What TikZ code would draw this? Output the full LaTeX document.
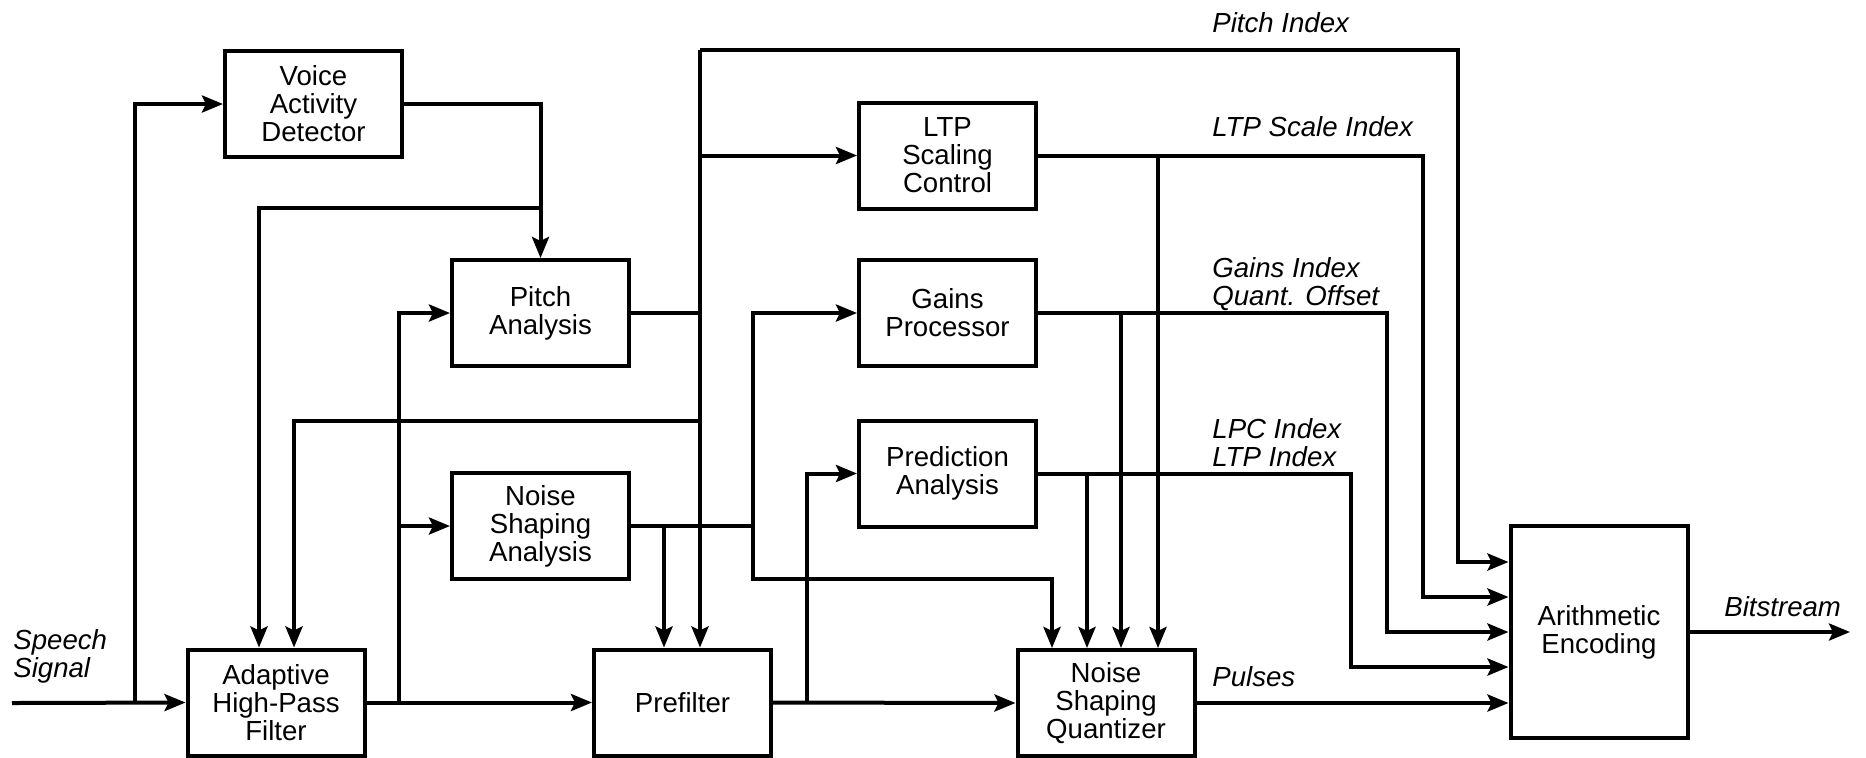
\documentclass[tikz,border=0pt]{standalone}
\usepackage{fontspec}
\setmainfont{Liberation Sans}
\usetikzlibrary{arrows.meta}
\begin{document}
\begin{tikzpicture}[x=0.5pt,y=-0.5pt,
  blk/.style={draw,line width=2pt,minimum width=88.5pt,minimum height=53pt,align=center,inner sep=0pt,font=\fontsize{13.8}{14}\selectfont},
  wire/.style={line width=2pt,line join=miter},
  arr/.style={wire,-{Stealth[length=10.5pt,width=8.5pt,inset=2pt]}},
  lbl/.style={anchor=west,inner sep=0pt,align=left,font=\fontsize{13.8}{14}\selectfont\itshape}]
\useasboundingbox (0,0) rectangle (1866,757);

% processing blocks
\node[blk] (vad) at (313.5,104) {Voice\\Activity\\Detector};
\node[blk] (pitch) at (540.5,313) {Pitch\\Analysis};
\node[blk] (nsa) at (540.5,526) {Noise\\Shaping\\Analysis};
\node[blk] (hpf) at (276,702.5) {Adaptive\\High-Pass\\Filter};
\node[blk] (pre) at (682.5,702.5) {Prefilter};
\node[blk] (ltp) at (947.5,155.5) {LTP\\Scaling\\Control};
\node[blk] (gain) at (947.5,313) {Gains\\Processor};
\node[blk] (pred) at (947.5,473.5) {Prediction\\Analysis};
\node[blk] (nsq) at (1106,703) {Noise\\Shaping\\Quantizer};
\node[blk,minimum height=106pt] (ae) at (1599,632) {Arithmetic\\Encoding};

% input and high-pass filter
\coordinate (src) at (12,703);
\draw[arr] (src) -- (hpf.west);
\coordinate (j1) at (135,703);
\draw[arr] (j1) |- (vad.west);
\draw[arr] (vad.east) -| (pitch.north);
\coordinate (j2) at (540.5,208);
\coordinate (h1) at (259,208);
\draw[arr] (j2) -- (h1) -- (h1 |- hpf.north);

\draw[arr] (hpf.east) -- (pre.west);
\coordinate (j3) at (399,703);
\draw[arr] (j3) |- (pitch.west);
\coordinate (j4) at (399,526);
\draw[arr] (j4) -- (nsa.west);

% pitch analysis bus
\coordinate (pbus) at (700,313);
\draw[wire] (pitch.east) -- (pbus);
\coordinate (ptop) at (700,50);
\draw[arr] (ptop) -- (ptop |- pre.north);
\coordinate (pidx) at (1458,562);
\draw[arr] (ptop) -| (pidx) -- (pidx -| ae.west);
\coordinate (j5) at (700,155.5);
\draw[arr] (j5) -- (ltp.west);
\coordinate (j6) at (700,421);
\coordinate (h2) at (294,421);
\draw[arr] (j6) -- (h2) -- (h2 |- hpf.north);

% noise shaping analysis bus
\coordinate (nbus) at (753,526);
\draw[wire] (nsa.east) -- (nbus);
\coordinate (j7) at (664,526);
\draw[arr] (j7) -- (j7 |- pre.north);
\draw[arr] (nbus) |- (gain.west);
\coordinate (nlow) at (753,579);
\coordinate (q1) at (1052,579);
\draw[arr] (nbus) -- (nlow) -- (q1) -- (q1 |- nsq.north);

% prefilter output
\draw[arr] (pre.east) -- (nsq.west);
\coordinate (j8) at (807,703);
\draw[arr] (j8) |- (pred.west);

% parameter outputs to the encoder
\coordinate (l1) at (1423,597);
\draw[arr] (ltp.east) -| (l1) -- (l1 -| ae.west);
\coordinate (q4) at (1158,155.5);
\draw[arr] (q4) -- (q4 |- nsq.north);
\coordinate (g1) at (1387,632);
\draw[arr] (gain.east) -| (g1) -- (g1 -| ae.west);
\coordinate (q3) at (1121,313);
\draw[arr] (q3) -- (q3 |- nsq.north);
\coordinate (r1) at (1351,667);
\draw[arr] (pred.east) -| (r1) -- (r1 -| ae.west);
\coordinate (q2) at (1087,473.5);
\draw[arr] (q2) -- (q2 |- nsq.north);
\draw[arr] (nsq.east) -- (nsq.east -| ae.west);
\coordinate (out) at (1850,632);
\draw[arr] (ae.east) -- (out);

% signal labels
\node[lbl] (lpitch) at (1212,23) {Pitch Index};
\node[lbl] (lltp) at (1212,127) {LTP Scale Index};
\node[lbl] (lgain) at (1212,284) {Gains Index\\Quant. Offset};
\node[lbl] (lpred) at (1212,443) {LPC Index\\LTP Index};
\node[lbl] (lpulse) at (1212,677) {Pulses};
\node[lbl] (lbits) at (1724,607) {Bitstream};
\node[lbl] (lspeech) at (13,656) {Speech\\Signal};
\end{tikzpicture}
\end{document}
